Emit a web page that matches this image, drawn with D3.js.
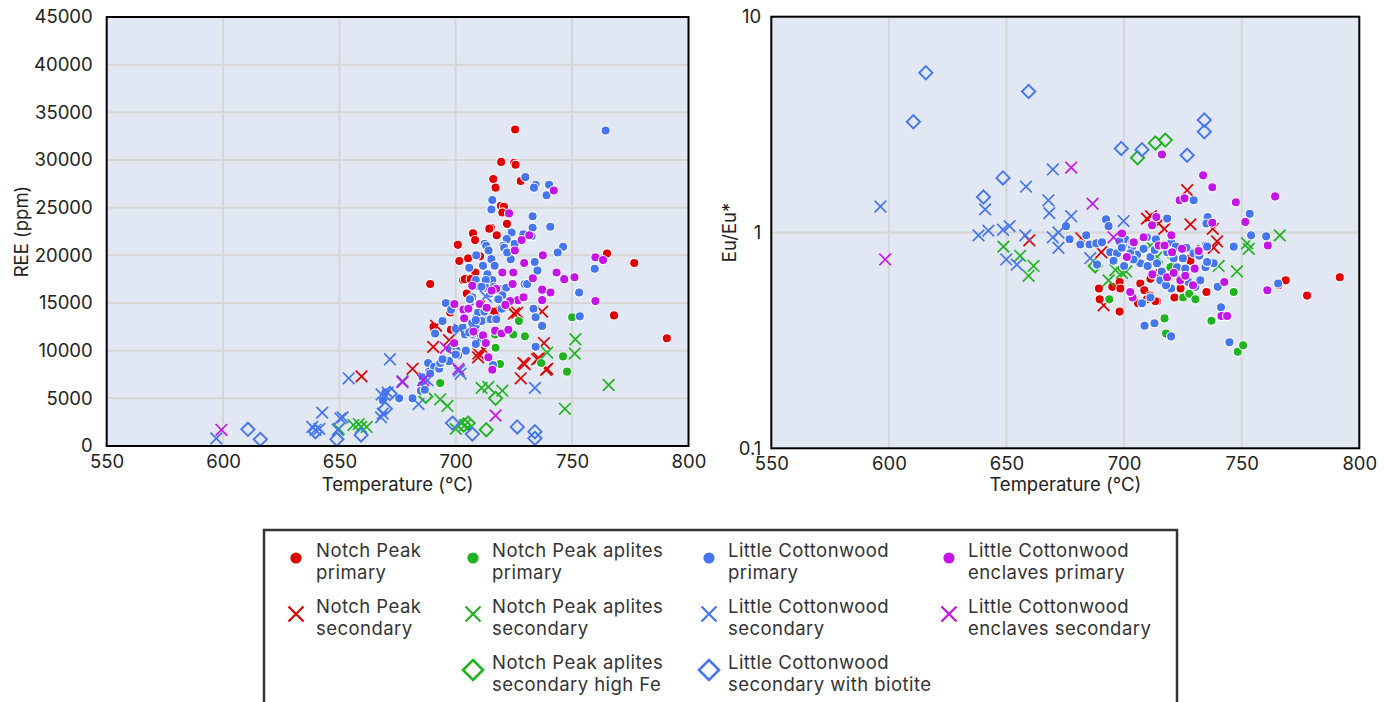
<!DOCTYPE html>
<html><head><meta charset="utf-8">
<script src="https://cdn.jsdelivr.net/npm/d3@7"></script>
<style>body{margin:0;background:#fff;} svg{display:block;font-family:Inter,"Open Sans",sans-serif;}</style>
</head><body><svg id="c" width="1385" height="702"></svg>
<script>
// ---------- tick values ----------
const tempTicks = [550, 600, 650, 700, 750, 800];
const reeTicks = [0, 5000, 10000, 15000, 20000, 25000, 30000, 35000, 40000, 45000];
const euTicks = [0.1, 1, 10];

// ---------- left panel: [Temperature °C, REE ppm] ----------
const npPrimaryREE = [[725.5,33200],[719.5,29800],[725.1,29700],[725.7,29500],[716.1,28000],[717.1,27100],[727.9,27800],[719.4,25200],[720.7,25100],[720,24500],[722,23300],[715.1,22900],[714.4,22800],[717.6,22100],[707.4,22300],[708.3,21600],[700.9,21100],[701.5,19400],[705.3,19700],[710.4,19900],[708.4,18200],[703.1,17400],[703.9,17500],[706.4,17500],[689,17000],[704.7,16000],[697.9,12200],[697.6,14000],[690.4,12500],[696.4,15000],[711.4,14600],[710.9,15000],[716.7,14100],[765,20200],[776.7,19200],[768,13700],[790.7,11300]];
const npSecondaryREE = [[659.5,7300],[681.4,8100],[690.3,10400],[691.6,12600],[697.1,11100],[709.6,9300],[709.7,9700],[712.1,10100],[716.4,14200],[725,13900],[726.4,14000],[727.9,7100],[729,8700],[729.6,8600],[735,9100],[735.7,9200],[737.1,14100],[737.9,10800],[738.8,8000],[739.3,8100]];
const aplPrimaryREE = [[727.1,13100],[716.9,11700],[717.1,10300],[724.7,11700],[729.7,11500],[719,8600],[693.3,6600],[746.1,9400],[747.8,7800],[750,13500],[736.7,8700]];
const aplSecondaryREE = [[751.4,11200],[739.3,9800],[751.1,9700],[765.7,6400],[746.9,3900],[711.1,6100],[714,6200],[720,5800],[693.3,4900],[696.4,4200],[649.7,1800],[656,2200],[658.3,2300],[661.7,2000],[659.3,2000],[700,1800],[704,2200]];
const aplHighFeREE = [[687.1,5200],[717.1,5000],[705.3,2400],[703.4,2200],[713.1,1700]];
const lcPrimaryREE = [[764.4,33100],[729.9,28200],[734.3,27400],[733.6,27100],[740.1,27400],[739,26300],[715.7,25800],[715.3,24800],[733,24100],[733,22900],[740.6,23000],[724,22400],[729,22200],[732.6,22000],[721.9,21700],[720.4,21000],[725.3,21200],[712.4,21200],[713.1,21000],[746.1,20900],[743.8,20300],[714.1,20500],[721.9,20500],[708.8,20000],[715.3,19600],[723.6,19600],[733.9,19300],[711.7,18900],[716.7,18900],[705.8,18700],[735.1,18400],[759.7,18600],[713.6,18000],[715.7,17400],[712.9,17400],[708.6,17400],[729.6,17000],[730.7,17000],[710,16700],[718.6,16500],[721.7,16600],[753,16100],[714.7,16000],[717.8,15400],[695.7,15000],[706.4,15100],[707.4,15500],[698,14300],[719.7,14400],[733.4,14400],[734.3,13500],[737.1,12600],[753.3,13600],[709,13700],[712.6,13300],[715,13300],[717.4,13300],[707.1,12900],[694.3,13100],[691.1,11800],[704.3,11800],[707.1,11700],[700,12300],[734.3,10400],[708.8,10900],[720.8,20800],[722.1,20300],[712.9,16600],[711,16700],[716.4,16700],[707.1,15600],[706.1,15400],[720,15800],[718.3,15400],[709.6,14000],[712.3,14100],[702.9,12400],[704,11700],[705.8,11900],[708.7,12700],[711,13100],[697.3,10200],[699.7,9700],[704.3,10000],[700.3,10000],[701,9500],[694.6,9200],[697.1,8900],[688.1,8700],[688.6,7800],[690.7,8300],[685.7,7200],[685.3,6400],[689,7600],[692.9,8100],[693.3,8700],[694.3,9100],[700,9600],[681.4,5000],[675.7,5000],[685,5800],[686.7,5900],[669.7,5600],[668.6,4800],[708.6,13200],[710,10900],[708.6,10700],[716,8500]];
const lcSecondaryREE = [[597.1,800],[671.7,9100],[654,7100],[642.6,3500],[638.3,2000],[639.7,1700],[641.4,1800],[649.3,1700],[650.4,2900],[651.4,3000],[667.9,3000],[668.6,3400],[668.1,5400],[670.7,5600],[684,4400],[686.7,7100],[687.8,6900],[677.1,6800],[701.4,7900],[702.1,7600],[734,6100],[712.9,15700],[701.7,12200],[707.4,12700],[710.4,11300]];
const lcBiotiteREE = [[610.7,1750],[616,700],[639.7,1500],[648.9,700],[659.3,1150],[669.7,3900],[671.7,5500],[698.6,2400],[707.1,1250],[726.4,2000],[734,1500],[734,800]];
const encPrimaryREE = [[742.1,26800],[722.9,24400],[731.6,22100],[728.3,21600],[725.4,20500],[737.4,20000],[729.4,19200],[760,19800],[763.3,19500],[720,18200],[724.7,18200],[743.3,18200],[746.6,17500],[751,17700],[733.1,17600],[724.4,17000],[707.1,16800],[717.3,16500],[715.4,16300],[737.1,16400],[740.7,16100],[737.1,15300],[760,15200],[726.7,15300],[729.1,15600],[723.3,15200],[710.3,14900],[713.3,14500],[721.3,14800],[699.4,14900],[703.3,14300],[705.4,14400],[716.9,12100],[719.7,11800],[722.6,12200],[711.7,11600],[699.3,10800],[712.9,10800],[703.6,13400],[707.6,12000],[714,9300],[715.7,8000]];
const encSecondaryREE = [[599.3,1700],[677.1,6700],[686,6900],[695.7,10300],[701.1,8100],[717.1,3200]];

// ---------- right panel: [Temperature °C, Eu/Eu*] ----------
const npPrimaryEu = [[791.7,0.62],[777.8,0.51],[768.7,0.60],[765.7,0.57],[698.1,0.43],[695,0.56],[698.1,0.59],[706.9,0.58],[708.6,0.54],[711.1,0.51],[714,0.48],[705.9,0.47],[721.4,0.50],[728.2,0.74],[689.3,0.55],[698.4,0.55],[709.7,0.49],[713.3,0.48],[714.7,0.65],[711.2,0.61],[735,0.53],[689.6,0.49],[718,0.58],[724,0.55]];
const npSecondaryEu = [[659.7,0.92],[709.7,1.16],[711.4,1.19],[714.7,1.10],[717.1,1.04],[726.8,1.57],[728.2,1.09],[737.7,1.04],[739.5,0.91],[738.1,0.85],[729.3,0.82],[691.3,0.46],[690.3,0.81],[681.8,0.94]];
const aplPrimaryEu = [[746.6,0.53],[737.1,0.39],[717.2,0.40],[717.8,0.34],[748.3,0.28],[750.6,0.30],[725.1,0.50],[727.7,0.52],[730.3,0.49],[719.7,0.69],[693.7,0.49]];
const aplSecondaryEu = [[648.7,0.86],[655.8,0.78],[661.5,0.70],[659.4,0.63],[693.4,0.60],[696.3,0.67],[699.1,0.65],[711.2,0.87],[714,0.77],[720.6,0.73],[740.2,0.70],[748,0.66],[752.3,0.89],[753,0.84],[766.2,0.97],[700.9,0.66]];
const aplHighFeEu = [[713.3,2.60],[717.5,2.68],[705.7,2.22],[687.7,0.70]];
const lcPrimaryEu = [[729.6,1.41],[753.4,1.22],[735.5,1.18],[735,1.10],[718.3,1.16],[754,0.97],[760.4,0.96],[746.6,0.86],[765.5,0.58],[739.8,0.56],[741.2,0.45],[744.8,0.31],[708.7,0.37],[712.9,0.38],[720,0.33],[707.6,0.47],[692.3,1.15],[693.4,1.07],[734.7,0.87],[675.3,1.07],[676.8,0.93],[681.4,0.88],[683.9,0.97],[685.3,0.88],[688.2,0.89],[690.6,0.90],[688.5,0.71],[694.1,0.81],[697,0.80],[695.5,0.74],[701.2,0.89],[703.4,0.86],[705.5,0.79],[702.6,0.80],[706.9,0.72],[708.3,0.84],[711.2,0.77],[714,0.72],[709.7,0.95],[718.3,0.81],[721.1,0.76],[722.5,0.69],[726,0.68],[723.9,0.61],[715.4,0.60],[720,0.55],[717.8,0.57],[711.2,0.50],[727.4,0.59],[730.3,0.56],[732.4,0.60],[734.6,0.69],[738.1,0.72],[735.3,0.73],[735.3,0.86],[700.5,0.93],[703.5,0.90],[698,0.91],[713.5,0.93],[720,0.90],[726.5,0.85],[729.5,0.80],[699,0.85],[704,0.75],[710,0.70],[716,0.66],[725,0.76],[732,0.78],[700,0.70],[713,0.83],[722,0.86]];
const lcSecondaryEu = [[596.4,1.32],[640.9,1.28],[658.3,1.63],[638.1,0.97],[642.3,1.02],[648.5,1.03],[651.3,1.07],[658,0.97],[667.8,1.41],[668.2,1.23],[669.7,1.96],[677.5,1.19],[699.8,1.13],[649.9,0.75],[654.4,0.71],[685.6,0.76],[669.7,0.95],[672.1,1.0],[672.1,0.85]];
const lcBiotiteEu = [[615.7,5.5],[610.4,3.26],[659.4,4.5],[648.5,1.79],[640.2,1.46],[734.1,3.32],[734.1,2.93],[698.8,2.45],[707.6,2.42],[726.8,2.28]];
const encPrimaryEu = [[716.1,2.30],[733.6,1.84],[737.5,1.62],[723.6,1.41],[725.7,1.44],[747.5,1.38],[764.2,1.47],[751.5,1.12],[737.5,1.11],[761.1,0.87],[760.9,0.54],[742.6,0.59],[741.4,0.41],[743.8,0.41],[713.7,1.18],[720.1,0.97],[699.1,0.99],[731.7,0.82],[730,0.68],[724.6,0.84],[720.4,0.81],[723.9,0.60],[718.3,0.62],[726,0.63],[729.3,0.57],[703.6,0.50],[702.6,0.53],[708.3,0.95],[714.7,0.87],[717.2,0.87],[711.9,1.08],[704.1,0.90],[701.2,0.77],[721.1,0.65],[712,0.64]];
const encSecondaryEu = [[598.4,0.75],[677.5,2.0],[686.6,1.36],[695.5,0.95]];

// ---------- series (legend order = draw order) ----------
const RED = "#e10000", GREEN = "#1fb41f", BLUE = "#4675f0", PURPLE = "#c414ea";
const series = [
  {name:["Notch Peak","primary"], color:RED, shape:"circle", ree:npPrimaryREE, eu:npPrimaryEu, col:0, row:0},
  {name:["Notch Peak","secondary"], color:RED, shape:"x", ree:npSecondaryREE, eu:npSecondaryEu, col:0, row:1},
  {name:["Notch Peak aplites","primary"], color:GREEN, shape:"circle", ree:aplPrimaryREE, eu:aplPrimaryEu, col:1, row:0},
  {name:["Notch Peak aplites","secondary"], color:GREEN, shape:"x", ree:aplSecondaryREE, eu:aplSecondaryEu, col:1, row:1},
  {name:["Notch Peak aplites","secondary high Fe"], color:GREEN, shape:"diamond", ree:aplHighFeREE, eu:aplHighFeEu, col:1, row:2},
  {name:["Little Cottonwood","primary"], color:BLUE, shape:"circle", ree:lcPrimaryREE, eu:lcPrimaryEu, col:2, row:0},
  {name:["Little Cottonwood","secondary"], color:BLUE, shape:"x", ree:lcSecondaryREE, eu:lcSecondaryEu, col:2, row:1},
  {name:["Little Cottonwood","secondary with biotite"], color:BLUE, shape:"diamond", ree:lcBiotiteREE, eu:lcBiotiteEu, col:2, row:2},
  {name:["Little Cottonwood","enclaves primary"], color:PURPLE, shape:"circle", ree:encPrimaryREE, eu:encPrimaryEu, col:3, row:0},
  {name:["Little Cottonwood","enclaves secondary"], color:PURPLE, shape:"x", ree:encSecondaryREE, eu:encSecondaryEu, col:3, row:1}
];

const FONT = 'Inter,"Open Sans",sans-serif';
const svg = d3.select("#c");

function drawMarker(g, shape, color, cx, cy, legend) {
  if (shape === "circle") {
    g.append("circle").attr("cx", cx).attr("cy", cy).attr("r", legend ? 5.6 : 4.6)
      .attr("fill", color).attr("stroke", legend ? "none" : "#fff").attr("stroke-width", 1.1);
  } else if (shape === "x") {
    const h = legend ? 7.5 : 5.8;
    g.append("path").attr("d", `M${cx-h},${cy-h}L${cx+h},${cy+h}M${cx-h},${cy+h}L${cx+h},${cy-h}`)
      .attr("stroke", color).attr("stroke-width", legend ? 2.2 : 1.7).attr("fill", "none");
  } else {
    const h = legend ? 10 : 6.6;
    g.append("path").attr("d", `M${cx},${cy-h}L${cx+h},${cy}L${cx},${cy+h}L${cx-h},${cy}Z`)
      .attr("stroke", color).attr("stroke-width", legend ? 2.6 : 1.9).attr("fill", "none");
  }
}

function panel(cfg) {
  const {x, y, key, yTicks, yFmt, yPad, title, titleX, gridY} = cfg;
  const g = svg.append("g");
  const [x0, x1] = x.range(), [y0, y1] = y.range();
  g.append("rect").attr("x", x0).attr("y", y1).attr("width", x1 - x0).attr("height", y0 - y1).attr("fill", "#e1e8f3");
  g.selectAll(".gx").data(tempTicks.slice(1, -1)).join("line")
    .attr("x1", d => x(d)).attr("x2", d => x(d)).attr("y1", y1).attr("y2", y0)
    .attr("stroke", "#d6d6d6").attr("stroke-width", 2);
  g.selectAll(".gy").data(gridY).join("line")
    .attr("y1", d => y(d)).attr("y2", d => y(d)).attr("x1", x0).attr("x2", x1)
    .attr("stroke", "#d6d6d6").attr("stroke-width", 2);
  const m = g.append("g");
  series.forEach(s => s[key].forEach(d => drawMarker(m, s.shape, s.color, x(d[0]), y(d[1]), false)));
  g.append("rect").attr("x", x0).attr("y", y1).attr("width", x1 - x0).attr("height", y0 - y1)
    .attr("fill", "none").attr("stroke", "#000").attr("stroke-width", 2);
  const ax = g.append("g").attr("transform", `translate(0,${y0})`)
    .call(d3.axisBottom(x).tickValues(tempTicks).tickSize(0).tickPadding(9).tickFormat(d3.format("d")));
  const ay = g.append("g").attr("transform", `translate(${x0},0)`)
    .call(d3.axisLeft(y).tickValues(yTicks).tickSize(0).tickPadding(yPad).tickFormat(yFmt));
  [ax, ay].forEach(a => {
    a.select(".domain").remove();
    a.selectAll("text").attr("font-size", 18.5).attr("fill", "#222").attr("font-family", FONT);
  });
  g.append("text").attr("x", (x0 + x1) / 2).attr("y", 491).attr("text-anchor", "middle")
    .attr("font-size", 18.5).attr("fill", "#222").text("Temperature (°C)");
  g.append("text").attr("transform", `translate(${titleX},${(y0 + y1) / 2}) rotate(-90)`)
    .attr("text-anchor", "middle").attr("font-size", 18.5).attr("fill", "#222").text(title);
}

panel({
  x: d3.scaleLinear([550, 800], [106.7, 688.5]),
  y: d3.scaleLinear([0, 45000], [446, 17]),
  key: "ree", yTicks: reeTicks, yFmt: d3.format("d"), yPad: 14,
  title: "REE (ppm)", titleX: 28, gridY: reeTicks.slice(1, -1)
});
panel({
  x: d3.scaleLinear([550, 800], [771.3, 1359.3]),
  y: d3.scaleLog([0.1, 10], [448.3, 16.7]),
  key: "eu", yTicks: euTicks, yFmt: d => String(d), yPad: 10,
  title: "Eu/Eu*", titleX: 736, gridY: [1]
});

// ---------- legend ----------
const lg = svg.append("g");
lg.append("rect").attr("x", 264).attr("y", 530).attr("width", 913).attr("height", 200)
  .attr("fill", "#fff").attr("stroke", "#333").attr("stroke-width", 2.5);
const colMarker = [296, 473, 709, 949], colText = [316, 492, 728, 968];
series.forEach(s => {
  const base = 557 + s.row * 56;
  drawMarker(lg, s.shape, s.color, colMarker[s.col], base + 1, true);
  const t = lg.append("text").attr("x", colText[s.col]).attr("y", base - 0.5)
    .attr("font-size", 18.5).attr("letter-spacing", 0.45).attr("fill", "#333");
  t.append("tspan").attr("x", colText[s.col]).text(s.name[0]);
  t.append("tspan").attr("x", colText[s.col]).attr("dy", 22.5).text(s.name[1]);
});
</script></body></html>
